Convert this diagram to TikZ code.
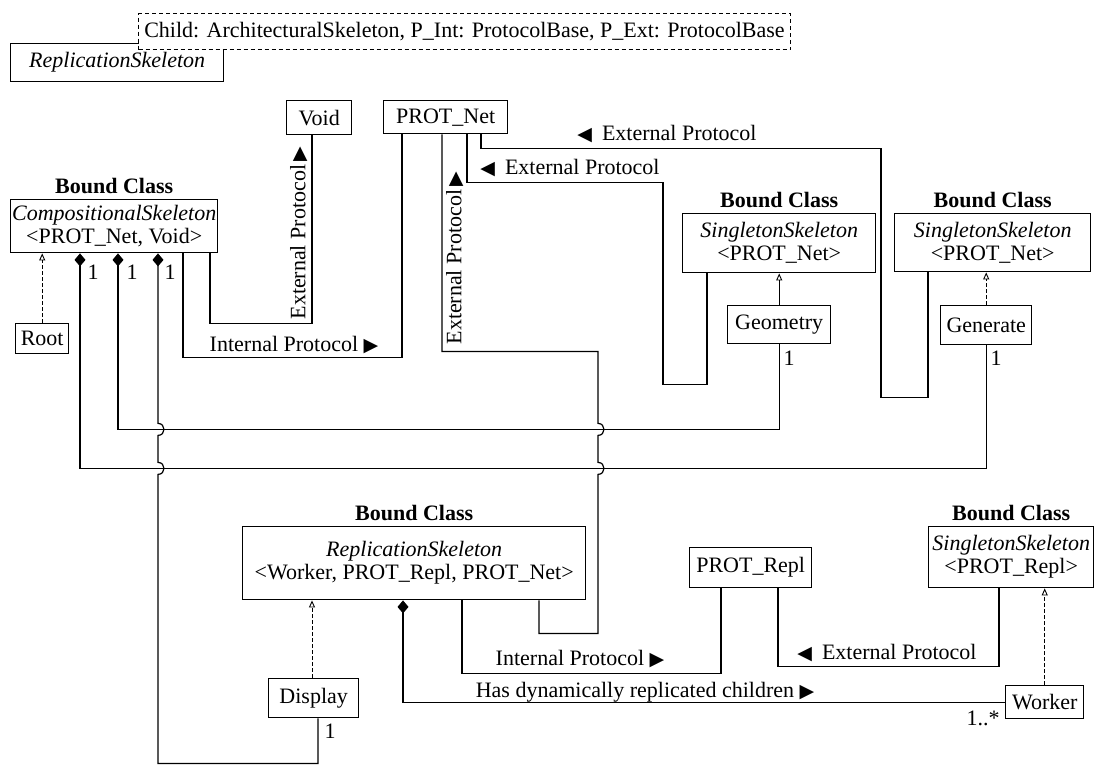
\documentclass[tikz,border=0pt]{standalone}
\usepackage{fontspec}
\setmainfont{Liberation Serif}
\newfontfamily\symf{DejaVu Sans}
\usetikzlibrary{arrows.meta}
\newcommand\fs{\fontsize{22}{23}\selectfont}
\newcommand\rtri{{\symf\fontsize{19}{19}\selectfont ▶}}
\newcommand\ltri{{\symf\fontsize{19}{19}\selectfont ◀}\hspace{10pt}}
\begin{document}
\begin{tikzpicture}[x=1pt,y=-1pt,
  every node/.style={font=\fs},
  box/.style={draw, line width=1.4pt, fill=white, inner sep=0pt, align=center, anchor=north west},
  conn/.style={line width=1.2pt},
  comp/.style={conn, {Diamond[length=13pt,width=11pt]}-},
  gen/.style={line width=0.9pt, -{Triangle[open,length=7pt,width=6pt,line width=0.9pt]}},
  gend/.style={gen, dash pattern=on 4pt off 2pt},
  lbl/.style={inner sep=0pt},
  bc/.style={font=\fs\bfseries, inner sep=0pt, anchor=south, yshift=5pt}]
\fill[white] (0,0) rectangle (1095,766);
\useasboundingbox (0,0) rectangle (1095,766);
% track coordinates
\foreach \t in {80,118,158,183,210,312,318,402,403,442,462,467,481,539,707,721,778,928,999}
  {\coordinate (t\t) at (\t,0);}
% template class
\node[box, minimum width=213, minimum height=38] (tmpl) at (10,43) {\itshape ReplicationSkeleton};
\node[box, dash pattern=on 4pt off 3pt, line width=1pt, minimum width=652, minimum height=36] (params) at (138,13)
  {Child: ArchitecturalSkeleton, P\_Int: ProtocolBase, P\_Ext: ProtocolBase};
% boxes
\node[box, minimum width=65, minimum height=34] (void) at (286,100) {Void};
\node[box, minimum width=124, minimum height=33] (pnet) at (383,100) {PROT\_Net};
\node[box, minimum width=207, minimum height=53] (cs) at (10,199) {\itshape CompositionalSkeleton\\<PROT\_Net, Void>};
\node[bc] (csb) at (cs.north) {Bound Class};
\node[box, minimum width=53, minimum height=30] (root) at (15,323) {Root};
\node[box, minimum width=193, minimum height=59] (ss1) at (682,213) {\itshape SingletonSkeleton\\<PROT\_Net>};
\node[bc] (ss1b) at (ss1.north) {Bound Class};
\node[box, minimum width=196, minimum height=58] (ss2) at (894,213) {\itshape SingletonSkeleton\\<PROT\_Net>};
\node[bc] (ss2b) at (ss2.north) {Bound Class};
\node[box, minimum width=103, minimum height=38] (geom) at (727,305) {Geometry};
\node[box, minimum width=91, minimum height=39] (genr) at (940,305) {Generate};
\node[box, minimum width=343, minimum height=73] (rs) at (242,526) {\itshape ReplicationSkeleton\\<Worker, PROT\_Repl, PROT\_Net>};
\node[bc] (rsb) at (rs.north) {Bound Class};
\node[box, minimum width=122, minimum height=40] (prepl) at (689,547) {PROT\_Repl};
\node[box, minimum width=165, minimum height=61] (ss3) at (928,526) {\itshape SingletonSkeleton\\<PROT\_Repl>};
\node[bc] (ss3b) at (ss3.north) {Bound Class};
\node[box, minimum width=78, minimum height=33] (worker) at (1005,685) {Worker};
\node[box, minimum width=90, minimum height=39] (display) at (268,678) {Display};
% generalizations
\draw[gend] (root.north) -- (cs.south -| root.north);
\draw[gen] (geom.north) -- (ss1.south -| geom.north);
\draw[gend] (genr.north) -- (ss2.south -| genr.north);
\draw[gend] (display.north -| t312) -- (rs.south -| t312);
\draw[gend] (worker.north) -- (ss3.south -| worker.north);
% protocol connectors
\draw[conn] (cs.south -| t210) -- ++(0,70) -| (void.south -| t312);
\draw[conn] (cs.south -| t183) -- ++(0,104) -| (pnet.south -| t402);
\draw[conn] (pnet.south -| t442) |- ++(156,217) -- ++(0,72)
   .. controls +(8,0) and +(8,0) .. ++(0,12) -- ++(0,27)
   .. controls +(8,0) and +(8,0) .. ++(0,12) -- ++(0,159) -| (rs.south -| t539);
\draw[conn] (pnet.south -| t467) |- ++(196,48) |- ++(44,202) -- (ss1.south -| t707);
\draw[conn] (pnet.south -| t481) |- ++(400,14) |- ++(47,249) -- (ss2.south -| t928);
\draw[conn] (rs.south -| t462) -- ++(0,73) -| (prepl.south -| t721);
\draw[conn] (prepl.south -| t778) -- ++(0,78) -| (ss3.south -| t999);
% compositions
\draw[comp] (cs.south -| t80) -- ++(0,215) -| (genr.south);
\draw[comp] (cs.south -| t118) -- ++(0,176) -| (geom.south);
\draw[comp] (cs.south -| t158) -- ++(0,170)
   .. controls +(8,0) and +(8,0) .. ++(0,12) -- ++(0,27)
   .. controls +(8,0) and +(8,0) .. ++(0,12) -- ++(0,289) -| (display.south -| t318);
\draw[comp] (rs.south -| t403) |- (worker.west);
% labels
\node[lbl, rotate=90] (lv) at (299,233) {External Protocol\,\rtri};
\node[lbl, rotate=90] (lp) at (455,258) {External Protocol\,\rtri};
\node[lbl] (li1) at (294,345) {Internal Protocol \rtri};
\node[lbl] (le1) at (570,168) {\ltri External Protocol};
\node[lbl] (le2) at (667,134) {\ltri External Protocol};
\node[lbl] (li2) at (580,659) {Internal Protocol \rtri};
\node[lbl] (le3) at (887,653) {\ltri External Protocol};
\node[lbl] (lh) at (645,692) {Has dynamically replicated children \rtri};
\node[lbl] (mw) at (983,718) {1..*};
\node[lbl] (m1) at (93,272) {1};
\node[lbl] (m2) at (132,272) {1};
\node[lbl] (m3) at (170,272) {1};
\node[lbl] (m4) at (789,358) {1};
\node[lbl] (m5) at (996,358) {1};
\node[lbl] (m6) at (330,731) {1};
\end{tikzpicture}
\end{document}
